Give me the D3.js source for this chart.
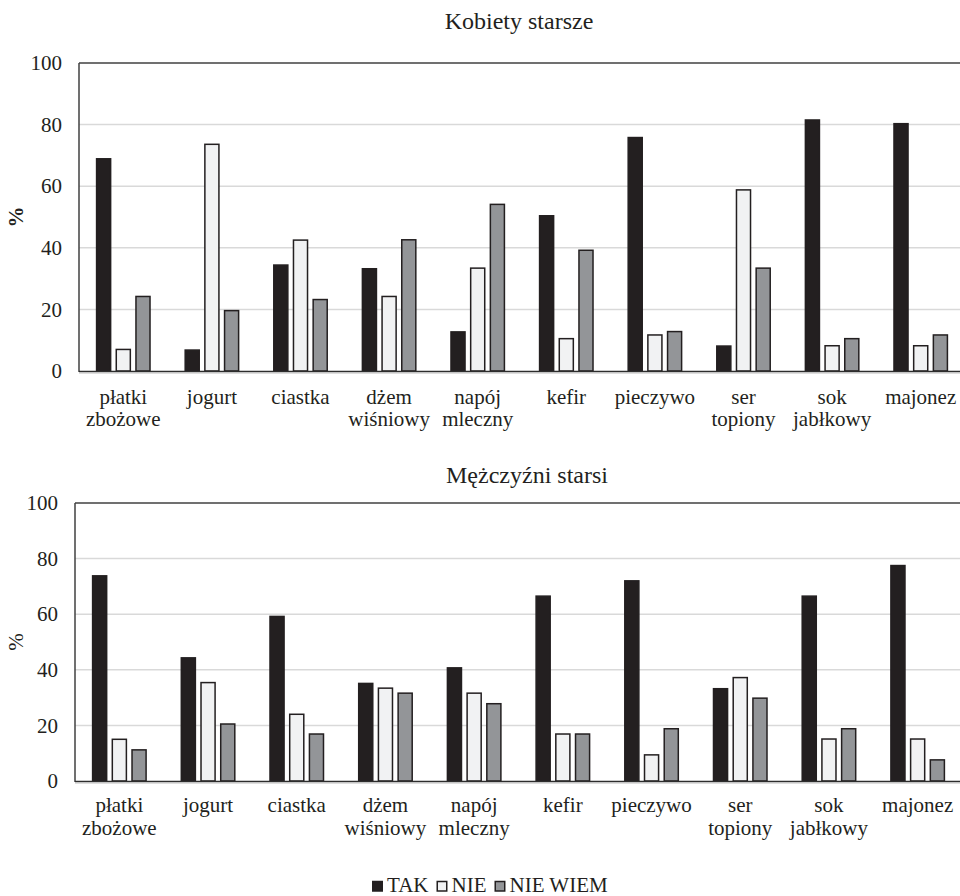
<!DOCTYPE html>
<html><head><meta charset="utf-8">
<script src="https://cdn.jsdelivr.net/npm/d3@7"></script>
<style>body{margin:0;background:#fff}svg{display:block}</style>
</head><body>
<svg id="c" width="960" height="896"></svg>
<script>
const categories = [["płatki","zbożowe"],["jogurt"],["ciastka"],["dżem","wiśniowy"],["napój","mleczny"],["kefir"],["pieczywo"],["ser","topiony"],["sok","jabłkowy"],["majonez"]];
const seriesNames = ["TAK","NIE","NIE WIEM"];
const yTicks = [0,20,40,60,80,100];
const womenTAK   = [68.9, 6.8, 34.4, 33.2, 12.7, 50.4, 75.8, 8.1, 81.5, 80.3];
const womenNIE   = [7.0, 73.6, 42.5, 24.2, 33.4, 10.5, 11.7, 58.8, 8.2, 8.2];
const womenNW    = [24.2, 19.6, 23.2, 42.6, 54.1, 39.2, 12.8, 33.4, 10.5, 11.7];
const menTAK     = [73.8, 44.3, 59.2, 35.1, 40.7, 66.5, 72.0, 33.2, 66.5, 77.5];
const menNIE     = [15.0, 35.4, 24.0, 33.4, 31.6, 16.9, 9.4, 37.2, 15.1, 15.1];
const menNW      = [11.2, 20.5, 16.9, 31.6, 27.8, 16.9, 18.8, 29.8, 18.8, 7.6];
const titles = ["Kobiety starsze","Mężczyźni starsi"];

const FONT = "Liberation Serif";
const colors = ["#231f20","#f1f2f3","#939598"];
const svg = d3.select("#c");
function txt(sel, size){ return sel.style("font-family",FONT).style("font-size",size+"px").attr("fill","#231f20"); }

const panels = [
  {title:titles[0], series:[womenTAK,womenNIE,womenNW], left:79, right:965, top:63, bottom:371, titleY:29, titleX:519, boldY:true, lab1:404, lab2:426},
  {title:titles[1], series:[menTAK,menNIE,menNW], left:75, right:962, top:503, bottom:781, titleY:483, titleX:527, boldY:false, lab1:812, lab2:835}
];

panels.forEach(p=>{
  const g = svg.append("g");
  const x = d3.scaleBand().domain(d3.range(categories.length)).range([p.left,p.right]).paddingInner(0.38).paddingOuter(0.19);
  const xi = d3.scaleBand().domain(d3.range(3)).range([0,x.bandwidth()]).paddingInner(0.21).paddingOuter(0);
  const y = d3.scaleLinear().domain([0,100]).range([p.bottom,p.top]);

  g.append("g").selectAll("line").data(yTicks.filter(t=>t>0 && t<100)).join("line")
    .attr("x1",p.left).attr("x2",p.right).attr("y1",d=>y(d)).attr("y2",d=>y(d))
    .attr("stroke","#d9d9d9").attr("stroke-width",1.5);

  const ya = d3.axisLeft(y).tickValues(yTicks).tickSize(0).tickPadding(17);
  const yg = g.append("g").attr("transform",`translate(${p.left},0)`).call(ya);
  yg.select(".domain").remove();
  txt(yg.selectAll("text"),21);

  p.series.forEach((vals,si)=>{
    g.append("g").selectAll("rect").data(vals).join("rect")
      .attr("x",(d,i)=>x(i)+xi(si)+0.75)
      .attr("width",xi.bandwidth()-1.5)
      .attr("y",d=>y(d))
      .attr("height",d=>y(0)-y(d))
      .attr("fill",colors[si])
      .attr("stroke","#231f20").attr("stroke-width",1.5);
  });

  g.append("line").attr("x1",p.left).attr("x2",p.right).attr("y1",p.top).attr("y2",p.top).attr("stroke","#404040").attr("stroke-width",1.5);
  g.append("line").attr("x1",p.left).attr("x2",p.left).attr("y1",p.top).attr("y2",p.bottom+1).attr("stroke","#404040").attr("stroke-width",1.5);
  g.append("line").attr("x1",p.left).attr("x2",p.right).attr("y1",p.bottom+0.5).attr("y2",p.bottom+0.5).attr("stroke","#2d2d2d").attr("stroke-width",1.5);
  g.append("line").attr("x1",p.left).attr("x2",p.right).attr("y1",p.bottom+2).attr("y2",p.bottom+2).attr("stroke","#bdbdbd").attr("stroke-width",1);

  const lg = g.append("g");
  categories.forEach((lines,i)=>{
    lines.forEach((t,li)=>{
      txt(lg.append("text"),21).attr("x",x(i)+x.bandwidth()/2).attr("y",li===0?p.lab1:p.lab2)
        .attr("text-anchor","middle").text(t);
    });
  });

  txt(g.append("text"),24).attr("x",p.titleX).attr("y",p.titleY).attr("text-anchor","middle").text(p.title);

  txt(g.append("text"),21).attr("transform",`translate(23,${(p.top+p.bottom)/2}) rotate(-90)`)
    .attr("text-anchor","middle").style("font-weight",p.boldY?"bold":"normal").text("%");
});

const leg = svg.append("g");
let lx = 372;
seriesNames.forEach((n,i)=>{
  leg.append("rect").attr("x",lx+0.75).attr("y",881.5).attr("width",9.5).attr("height",9.5)
    .attr("fill",colors[i]).attr("stroke","#231f20").attr("stroke-width",1.5);
  const t = txt(leg.append("text"),21).attr("x",lx+15).attr("y",891.5).text(n);
  lx += 15 + t.node().getComputedTextLength() + 8;
});
</script>
</body></html>
